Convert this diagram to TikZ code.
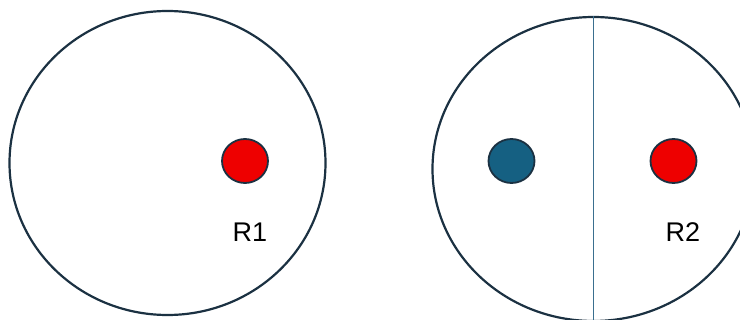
\documentclass[tikz,border=0pt]{standalone}
\usepackage{fontspec}
\setmainfont{Liberation Sans}
\usetikzlibrary{shapes.geometric}
\definecolor{outl}{HTML}{1B3142}
\definecolor{dotred}{HTML}{EE0000}
\definecolor{dotblue}{HTML}{156082}
\definecolor{divline}{HTML}{3A6F8F}
\tikzset{
  region/.style={draw=outl, line width=2.2pt, ellipse, inner sep=0pt},
  dot/.style={draw=outl, line width=1.8pt, ellipse, inner sep=0pt, minimum width=46pt, minimum height=44pt},
  lbl/.style={font=\fontsize{27pt}{30pt}\selectfont, text=black, inner sep=0pt}
}
\begin{document}
\begin{tikzpicture}[x=1pt,y=-1pt]
\useasboundingbox (0,0) rectangle (740,320);
\clip (0,0) rectangle (740,320);
\node[region, minimum width=316pt, minimum height=304pt] (c1) at (167.5,163) {};
\node[region, minimum width=322pt, minimum height=304pt] (c2) at (593.5,169) {};
\draw[divline, line width=1pt] (c2.north) -- (c2.south);
\node[dot, fill=dotred] (r1) at (245,161) {};
\node[dot, fill=dotblue] (b2) at (511.5,161) {};
\node[dot, fill=dotred] (r2) at (673.5,161) {};
\node[lbl] (t1) at (250,232) {R1};
\node[lbl] (t2) at (683,232) {R2};
\end{tikzpicture}
\end{document}
